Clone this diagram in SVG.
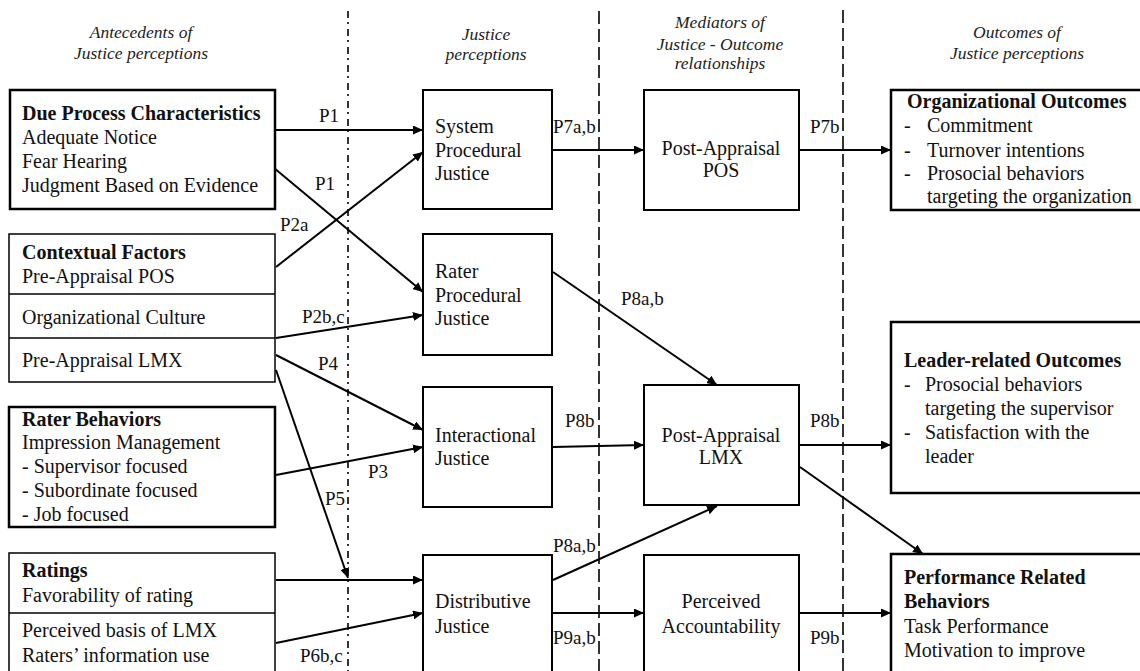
<svg xmlns="http://www.w3.org/2000/svg" width="1140" height="671" viewBox="0 0 1140 671">
  <style>
    .hdr { font-family: "Liberation Serif", "DejaVu Serif", "Times New Roman", serif; font-style: italic; font-size: 17.5px; fill: #222; text-anchor: middle; }
    .txt { font-family: "Liberation Serif", "DejaVu Serif", "Times New Roman", serif; font-size: 20px; fill: #111; }
    .b { font-weight: bold; }
    .mid { text-anchor: middle; }
    .lbl { font-family: "Liberation Serif", "DejaVu Serif", "Times New Roman", serif; font-size: 19px; fill: #111; }
    .box { fill: #fff; stroke: #000; stroke-width: 2.5; }
    .thin { fill: #fff; stroke: #000; stroke-width: 1.5; }
    .jbox { fill: #fff; stroke: #000; stroke-width: 2; }
    .div { stroke: #000; stroke-width: 1.5; }
    .arr { stroke: #000; stroke-width: 2; fill: none; marker-end: url(#ah); }
    .dashdot { stroke: #333; stroke-width: 2; stroke-dasharray: 7 4 2 5; }
    .dash { stroke: #333; stroke-width: 2; stroke-dasharray: 13 5; }
  </style>
  <defs>
    <marker id="ah" markerUnits="userSpaceOnUse" markerWidth="11" markerHeight="9" refX="10" refY="4.5" orient="auto">
      <path d="M0,0 L10,4.5 L0,9 z" fill="#000"/>
    </marker>
  </defs>
  <rect width="1140" height="671" fill="#fff"/>

  <!-- column separators -->
  <g id="separators">
    <line class="dashdot" x1="348" y1="11" x2="348" y2="671"/>
    <line class="dash" x1="599" y1="11" x2="599" y2="671"/>
    <line class="dash" x1="843" y1="10" x2="843" y2="671"/>
  </g>

  <!-- column headings -->
  <g id="headings">
    <text class="hdr" x="141" y="38">Antecedents of</text>
    <text class="hdr" x="141" y="59">Justice perceptions</text>
    <text class="hdr" x="486" y="40">Justice</text>
    <text class="hdr" x="486" y="60">perceptions</text>
    <text class="hdr" x="720" y="28">Mediators of</text>
    <text class="hdr" x="720" y="50">Justice - Outcome</text>
    <text class="hdr" x="720" y="69">relationships</text>
    <text class="hdr" x="1017" y="38">Outcomes of</text>
    <text class="hdr" x="1017" y="59">Justice perceptions</text>
  </g>

  <!-- connectors -->
  <g id="connectors">
    <line class="arr" x1="276" y1="130" x2="423" y2="130"/>
    <line class="arr" x1="274" y1="168" x2="423" y2="292"/>
    <line class="arr" x1="276" y1="267" x2="423" y2="152"/>
    <line class="arr" x1="276" y1="338" x2="423" y2="315"/>
    <line class="arr" x1="276" y1="355" x2="423" y2="430"/>
    <line class="arr" x1="276" y1="475" x2="423" y2="447"/>
    <line class="arr" x1="276" y1="370" x2="348" y2="578"/>
    <line class="arr" x1="276" y1="580" x2="423" y2="580"/>
    <line class="arr" x1="276" y1="643" x2="423" y2="613"/>
    <line class="arr" x1="553" y1="150" x2="644" y2="150"/>
    <line class="arr" x1="800" y1="150" x2="891" y2="150"/>
    <line class="arr" x1="553" y1="272" x2="717" y2="385"/>
    <line class="arr" x1="553" y1="447" x2="644" y2="445"/>
    <line class="arr" x1="553" y1="580" x2="717" y2="506"/>
    <line class="arr" x1="553" y1="613" x2="644" y2="613"/>
    <line class="arr" x1="800" y1="445" x2="891" y2="445"/>
    <line class="arr" x1="800" y1="467" x2="923" y2="554"/>
    <line class="arr" x1="800" y1="613" x2="891" y2="613"/>
  </g>

  <!-- proposition labels -->
  <g id="labels">
    <text class="lbl" x="319" y="122">P1</text>
    <text class="lbl" x="315" y="190">P1</text>
    <text class="lbl" x="280" y="231">P2a</text>
    <text class="lbl" x="302" y="323">P2b,c</text>
    <text class="lbl" x="318" y="370">P4</text>
    <text class="lbl" x="368" y="478">P3</text>
    <text class="lbl" x="325" y="505">P5</text>
    <text class="lbl" x="300" y="662">P6b,c</text>
    <text class="lbl" x="553" y="133">P7a,b</text>
    <text class="lbl" x="810" y="133">P7b</text>
    <text class="lbl" x="621" y="305">P8a,b</text>
    <text class="lbl" x="565" y="427">P8b</text>
    <text class="lbl" x="810" y="427">P8b</text>
    <text class="lbl" x="553" y="552">P8a,b</text>
    <text class="lbl" x="553" y="644">P9a,b</text>
    <text class="lbl" x="810" y="644">P9b</text>
  </g>

  <!-- antecedents -->
  <g id="due-process">
    <rect class="box" x="10" y="90" width="265" height="119"/>
    <text class="txt b" x="22" y="120">Due Process Characteristics</text>
    <text class="txt" x="22" y="144">Adequate Notice</text>
    <text class="txt" x="22" y="168">Fear Hearing</text>
    <text class="txt" x="22" y="192">Judgment Based on Evidence</text>
  </g>
  <g id="contextual-factors">
    <rect class="thin" x="9" y="234" width="266" height="148"/>
    <line class="div" x1="9" y1="294" x2="275" y2="294"/>
    <line class="div" x1="9" y1="338" x2="275" y2="338"/>
    <text class="txt b" x="22" y="259">Contextual Factors</text>
    <text class="txt" x="22" y="283">Pre-Appraisal POS</text>
    <text class="txt" x="22" y="324">Organizational Culture</text>
    <text class="txt" x="22" y="367">Pre-Appraisal LMX</text>
  </g>
  <g id="rater-behaviors">
    <rect class="box" x="9" y="407" width="266" height="120"/>
    <text class="txt b" x="22" y="426">Rater Behaviors</text>
    <text class="txt" x="22" y="449">Impression Management</text>
    <text class="txt" x="22" y="473">- Supervisor focused</text>
    <text class="txt" x="22" y="497">- Subordinate focused</text>
    <text class="txt" x="22" y="521">- Job focused</text>
  </g>
  <g id="ratings">
    <rect class="thin" x="9" y="553" width="266" height="130"/>
    <line class="div" x1="9" y1="613" x2="275" y2="613"/>
    <text class="txt b" x="22" y="577">Ratings</text>
    <text class="txt" x="22" y="602">Favorability  of rating</text>
    <text class="txt" x="22" y="637">Perceived basis of LMX</text>
    <text class="txt" x="22" y="662">Raters’ information use</text>
  </g>

  <!-- justice perceptions -->
  <g id="system-procedural">
    <rect class="jbox" x="423" y="90" width="129" height="119"/>
    <text class="txt" x="435" y="133">System</text>
    <text class="txt" x="435" y="157">Procedural</text>
    <text class="txt" x="435" y="180">Justice</text>
  </g>
  <g id="rater-procedural">
    <rect class="jbox" x="423" y="234" width="129" height="121"/>
    <text class="txt" x="435" y="278">Rater</text>
    <text class="txt" x="435" y="302">Procedural</text>
    <text class="txt" x="435" y="325">Justice</text>
  </g>
  <g id="interactional">
    <rect class="jbox" x="423" y="387" width="129" height="120"/>
    <text class="txt" x="435" y="442">Interactional</text>
    <text class="txt" x="435" y="465">Justice</text>
  </g>
  <g id="distributive">
    <rect class="jbox" x="423" y="555" width="129" height="130"/>
    <text class="txt" x="435" y="608">Distributive</text>
    <text class="txt" x="435" y="633">Justice</text>
  </g>

  <!-- mediators -->
  <g id="post-appraisal-pos">
    <rect class="jbox" x="644" y="90" width="155" height="120"/>
    <text class="txt mid" x="721" y="155">Post-Appraisal</text>
    <text class="txt mid" x="721" y="177">POS</text>
  </g>
  <g id="post-appraisal-lmx">
    <rect class="jbox" x="644" y="385" width="155" height="120"/>
    <text class="txt mid" x="721" y="442">Post-Appraisal</text>
    <text class="txt mid" x="721" y="464">LMX</text>
  </g>
  <g id="perceived-accountability">
    <rect class="jbox" x="644" y="555" width="155" height="130"/>
    <text class="txt mid" x="721" y="608">Perceived</text>
    <text class="txt mid" x="721" y="633">Accountability</text>
  </g>

  <!-- outcomes -->
  <g id="organizational-outcomes">
    <rect class="box" x="891" y="90" width="260" height="120"/>
    <text class="txt b" x="907" y="108">Organizational Outcomes</text>
    <text class="txt" x="904" y="132">-</text><text class="txt" x="927" y="132">Commitment</text>
    <text class="txt" x="904" y="157">-</text><text class="txt" x="927" y="157">Turnover intentions</text>
    <text class="txt" x="904" y="180">-</text><text class="txt" x="927" y="180">Prosocial behaviors</text>
    <text class="txt" x="927" y="203">targeting the organization</text>
  </g>
  <g id="leader-outcomes">
    <rect class="box" x="891" y="322" width="260" height="171"/>
    <text class="txt b" x="904" y="367">Leader-related Outcomes</text>
    <text class="txt" x="904" y="391">-</text><text class="txt" x="925" y="391">Prosocial behaviors</text>
    <text class="txt" x="925" y="415">targeting the supervisor</text>
    <text class="txt" x="904" y="439">-</text><text class="txt" x="925" y="439">Satisfaction with the</text>
    <text class="txt" x="925" y="463">leader</text>
  </g>
  <g id="performance-behaviors">
    <rect class="box" x="891" y="554" width="260" height="130"/>
    <text class="txt b" x="904" y="584">Performance Related</text>
    <text class="txt b" x="904" y="608">Behaviors</text>
    <text class="txt" x="904" y="633">Task Performance</text>
    <text class="txt" x="904" y="657">Motivation to improve</text>
  </g>
</svg>
